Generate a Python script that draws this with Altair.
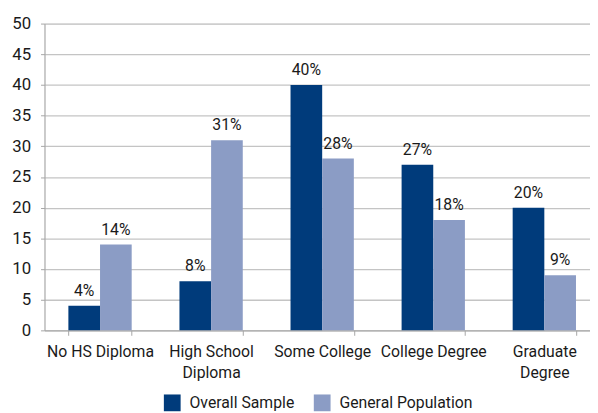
import json
import altair as alt
import pandas as pd

categories = ["No HS Diploma", "High School Diploma", "Some College", "College Degree", "Graduate Degree"]
label_lines = [["No HS Diploma"], ["High School", "Diploma"], ["Some College"], ["College Degree"], ["Graduate", "Degree"]]
series = ["Overall Sample", "General Population"]
overall = [4, 8, 40, 27, 20]
general = [14, 31, 28, 18, 9]
colors = ["#003B7B", "#8B9CC5"]

rows = []
for c, o, g in zip(categories, overall, general):
    rows.append({"cat": c, "series": series[0], "value": o})
    rows.append({"cat": c, "series": series[1], "value": g})
df = pd.DataFrame(rows)
df["label"] = df["value"].astype(str) + "%"

FONT = "Roboto"

label_map = json.dumps(dict(zip(categories, label_lines)))
label_expr = f"{label_map}[datum.value]"

x = alt.X("cat:N", sort=categories, title=None,
          scale=alt.Scale(range=[0, 563], paddingInner=0.43, paddingOuter=0.215),
          axis=alt.Axis(labelExpr=label_expr, labelAngle=0, tickBand="extent",
                        tickSize=5, tickColor="#A6A6A6", domainColor="#A6A6A6",
                        labelFontSize=16, labelFont=FONT, labelColor="#1a1a1a",
                        labelPadding=9, labelLineHeight=21, grid=False))
xo = alt.XOffset("series:N", sort=series, scale=alt.Scale(paddingInner=0, paddingOuter=0))
y = alt.Y("value:Q", title=None,
          scale=alt.Scale(domain=[0, 50], nice=False),
          axis=alt.Axis(values=list(range(0, 51, 5)), tickSize=4, tickColor="#A6A6A6",
                        domainColor="#A6A6A6", gridColor="#C4C4C4", gridWidth=1.3,
                        labelFontSize=17, labelFont=FONT, labelColor="#1a1a1a",
                        labelPadding=10))

bars = alt.Chart(df).mark_bar().encode(
    x=x, xOffset=xo, y=y,
    color=alt.Color("series:N", sort=series, scale=alt.Scale(domain=series, range=colors),
                    legend=alt.Legend(title=None, orient="none", direction="horizontal",
                                      legendX=121, legendY=376, symbolType="square",
                                      symbolSize=289, symbolStrokeWidth=0, labelFontSize=16,
                                      labelFont=FONT, labelColor="#1a1a1a", labelOffset=9,
                                      columnPadding=19)))

texts = alt.Chart(df).mark_text(baseline="bottom", dy=-7, fontSize=16, font=FONT, color="#1a1a1a").encode(
    x=x, xOffset=xo, y=y, text="label:N")

chart = (bars + texts).properties(
    width=553, height=311,
    autosize=alt.AutoSizeParams(type="none"),
    padding={"left": 37, "top": 13, "right": 0, "bottom": 81},
).configure_view(stroke=None).configure(background="white")

chart.save("out.html", embed_options={"renderer": "svg", "actions": False})
